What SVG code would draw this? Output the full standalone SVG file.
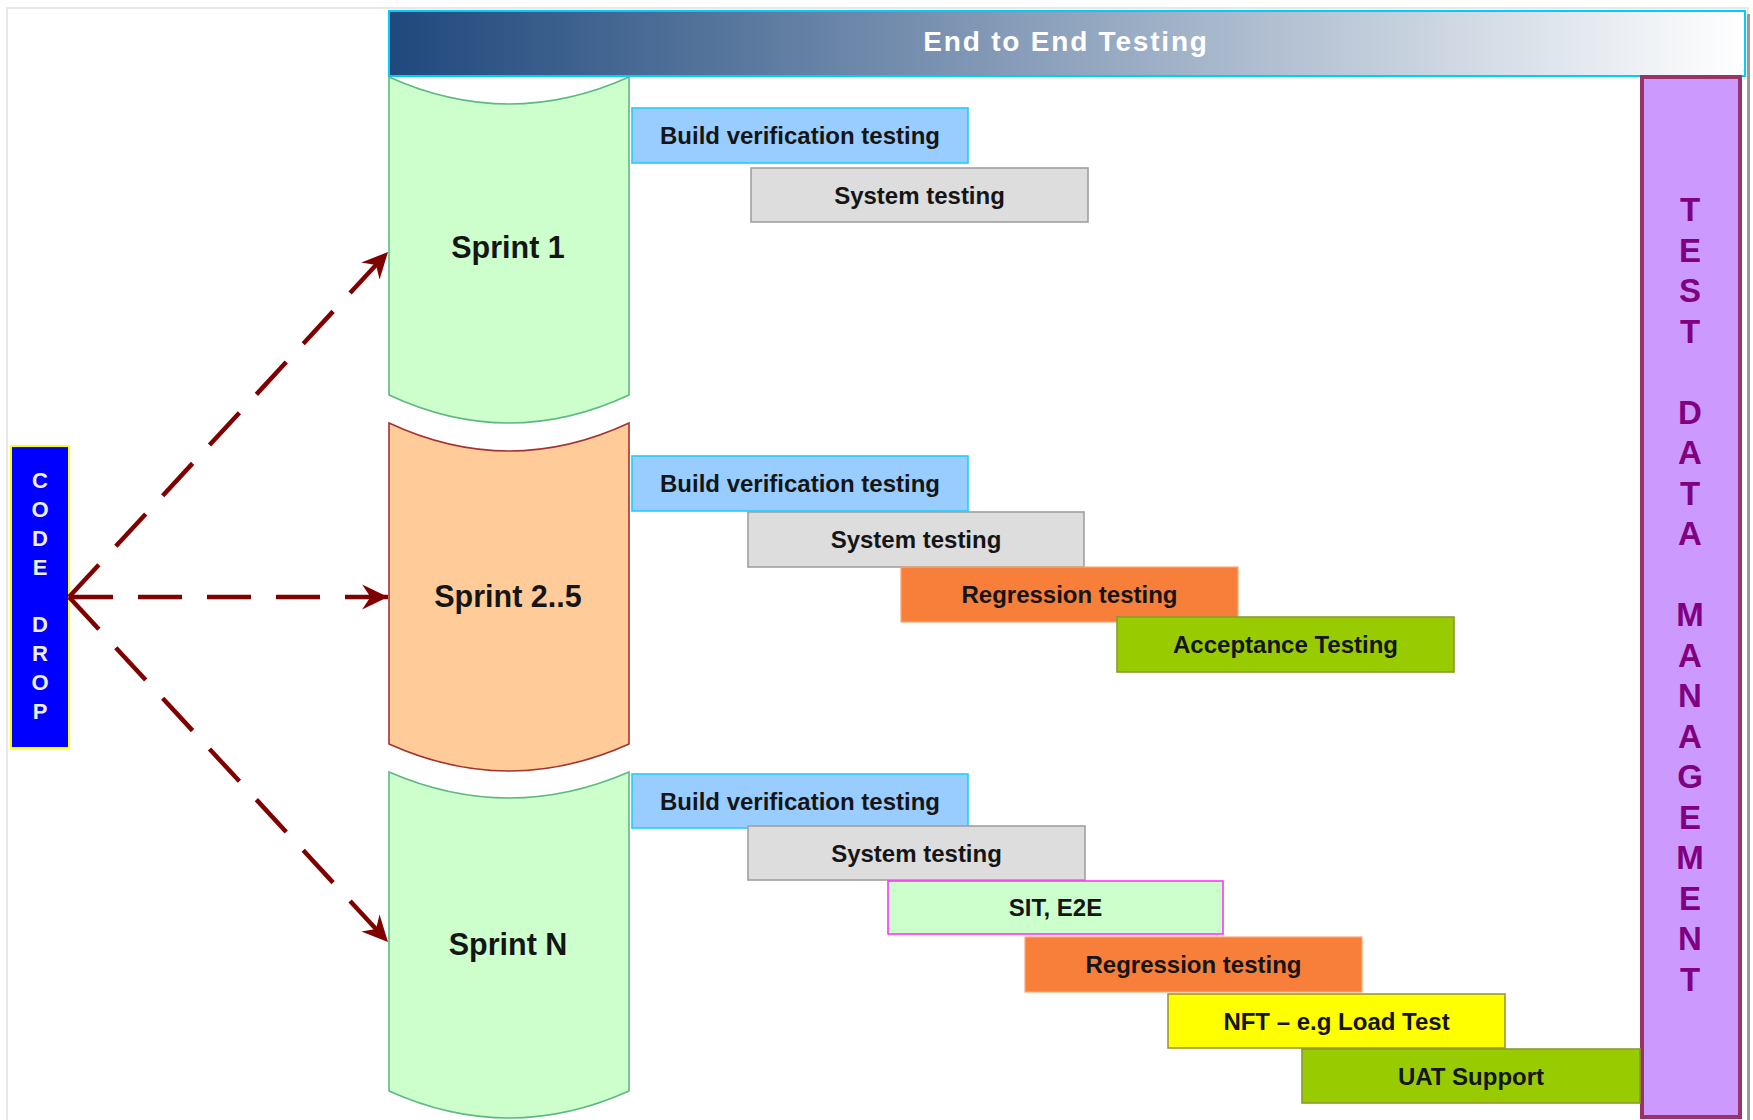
<svg xmlns="http://www.w3.org/2000/svg" width="1753" height="1120" viewBox="0 0 1753 1120">
  <defs>
    <linearGradient id="hdrGrad" x1="0" y1="0" x2="1" y2="0">
      <stop offset="0" stop-color="#1f487c"/>
      <stop offset="1" stop-color="#ffffff"/>
    </linearGradient>
    <marker id="arrowHead" markerUnits="userSpaceOnUse" markerWidth="30" markerHeight="30" viewBox="-27 -14 29 28" refX="0" refY="0" orient="auto">
      <path d="M0,0 L-25,-12 L-17,0 L-25,12 Z" fill="#800000"/>
    </marker>
    <style>
      .lbl { font-family: "Liberation Sans", Arial, sans-serif; font-weight: bold; fill: #151515; text-anchor: middle; }
      .bar { font-size: 24px; }
      .sprint { font-size: 30.5px; }
      .sprint-green { fill: #ccffcc; stroke: #5fb882; stroke-width: 1.6; }
      .sprint-orange { fill: #ffcc99; stroke: #a33333; stroke-width: 1.6; }
      .bvt { fill: #99ccff; stroke: #22ccff; stroke-width: 1.6; }
      .sys { fill: #dddddd; stroke: #a0a0a0; stroke-width: 1.6; }
      .reg { fill: #f87f3a; stroke: #f9a878; stroke-width: 1.2; }
      .acc { fill: #99cc00; stroke: #8a9a30; stroke-width: 1.6; }
      .sit { fill: #ccffcc; stroke: #ff33ff; stroke-width: 1.6; }
      .nft { fill: #ffff00; stroke: #9a9a33; stroke-width: 1.6; }
      .conn { fill: none; stroke: #800000; stroke-width: 4.5; stroke-dasharray: 44 25; marker-end: url(#arrowHead); }
      .vert-code { font-family: "Liberation Sans", Arial, sans-serif; font-size: 22px; font-weight: bold; fill: #eeeeee; text-anchor: middle; }
      .vert-tdm { font-family: "Liberation Sans", Arial, sans-serif; font-size: 33px; font-weight: bold; fill: #800080; text-anchor: middle; }
    </style>
  </defs>

  <!-- page frame -->
  <rect x="7" y="8" width="1741" height="1120" fill="#ffffff" stroke="#e8e8e8" stroke-width="2"/>
  <line x1="1748.5" y1="14" x2="1748.5" y2="1120" stroke="#9a9a9a" stroke-width="3"/>

  <!-- header banner -->
  <g id="end-to-end">
    <rect x="389" y="11" width="1356" height="65" fill="url(#hdrGrad)" stroke="#00ccff" stroke-width="2"/>
    <text x="1066" y="51" font-family="'Liberation Sans', Arial, sans-serif" font-size="28" font-weight="bold" fill="#ffffff" text-anchor="middle" letter-spacing="1.8">End to End Testing</text>
  </g>

  <!-- code drop -->
  <g id="code-drop">
    <rect x="11" y="446" width="58" height="302" fill="#0000ff" stroke="#ffff00" stroke-width="2"/>
    <text class="vert-code" x="40" y="488">C</text>
    <text class="vert-code" x="40" y="517">O</text>
    <text class="vert-code" x="40" y="546">D</text>
    <text class="vert-code" x="40" y="575">E</text>
    <text class="vert-code" x="40" y="632">D</text>
    <text class="vert-code" x="40" y="661">R</text>
    <text class="vert-code" x="40" y="690">O</text>
    <text class="vert-code" x="40" y="719">P</text>
  </g>

  <!-- test data management -->
  <g id="test-data-management">
    <rect x="1642" y="77" width="98" height="1040" fill="#cc99ff" stroke="#993366" stroke-width="4"/>
    <text class="vert-tdm" x="1690" y="221">T</text>
    <text class="vert-tdm" x="1690" y="261.5">E</text>
    <text class="vert-tdm" x="1690" y="302">S</text>
    <text class="vert-tdm" x="1690" y="342.5">T</text>
    <text class="vert-tdm" x="1690" y="423.5">D</text>
    <text class="vert-tdm" x="1690" y="464">A</text>
    <text class="vert-tdm" x="1690" y="504.5">T</text>
    <text class="vert-tdm" x="1690" y="545">A</text>
    <text class="vert-tdm" x="1690" y="626">M</text>
    <text class="vert-tdm" x="1690" y="666.5">A</text>
    <text class="vert-tdm" x="1690" y="707">N</text>
    <text class="vert-tdm" x="1690" y="747.5">A</text>
    <text class="vert-tdm" x="1690" y="788">G</text>
    <text class="vert-tdm" x="1690" y="828.5">E</text>
    <text class="vert-tdm" x="1690" y="869">M</text>
    <text class="vert-tdm" x="1690" y="909.5">E</text>
    <text class="vert-tdm" x="1690" y="950">N</text>
    <text class="vert-tdm" x="1690" y="990.5">T</text>
  </g>

  <!-- sprint 1 -->
  <g id="sprint-1">
    <path class="sprint-green" d="M389,77 Q509,131 629,77 L629,395 Q509,451 389,395 Z"/>
    <text class="lbl sprint" x="508" y="258">Sprint 1</text>
  </g>
  <g id="s1-bvt">
    <rect class="bvt" x="632" y="108" width="336" height="55"/>
    <text class="lbl bar" x="800" y="144">Build verification testing</text>
  </g>
  <g id="s1-sys">
    <rect class="sys" x="751" y="168" width="337" height="54"/>
    <text class="lbl bar" x="919.5" y="203.5">System testing</text>
  </g>

  <!-- sprint 2..5 -->
  <g id="sprint-2-5">
    <path class="sprint-orange" d="M389,423 Q509,479 629,423 L629,744 Q509,798 389,744 Z"/>
    <text class="lbl sprint" x="508" y="607">Sprint 2..5</text>
  </g>
  <g id="s2-bvt">
    <rect class="bvt" x="632" y="456" width="336" height="55"/>
    <text class="lbl bar" x="800" y="492">Build verification testing</text>
  </g>
  <g id="s2-sys">
    <rect class="sys" x="748" y="512" width="336" height="55"/>
    <text class="lbl bar" x="916" y="548">System testing</text>
  </g>
  <g id="s2-reg">
    <rect class="reg" x="901" y="567" width="337" height="55"/>
    <text class="lbl bar" x="1069.5" y="603">Regression testing</text>
  </g>
  <g id="s2-acc">
    <rect class="acc" x="1117" y="617" width="337" height="55"/>
    <text class="lbl bar" x="1285.5" y="653">Acceptance Testing</text>
  </g>

  <!-- sprint N -->
  <g id="sprint-n">
    <path class="sprint-green" d="M389,772 Q509,824 629,772 L629,1091 Q509,1145 389,1091 Z"/>
    <text class="lbl sprint" x="508" y="955">Sprint N</text>
  </g>
  <g id="sn-bvt">
    <rect class="bvt" x="632" y="774" width="336" height="54"/>
    <text class="lbl bar" x="800" y="809.5">Build verification testing</text>
  </g>
  <g id="sn-sys">
    <rect class="sys" x="748" y="826" width="337" height="54"/>
    <text class="lbl bar" x="916.5" y="861.5">System testing</text>
  </g>
  <g id="sn-sit">
    <rect class="sit" x="888" y="881" width="335" height="53"/>
    <text class="lbl bar" x="1055.5" y="916">SIT, E2E</text>
  </g>
  <g id="sn-reg">
    <rect class="reg" x="1025" y="937" width="337" height="55"/>
    <text class="lbl bar" x="1193.5" y="973">Regression testing</text>
  </g>
  <g id="sn-nft">
    <rect class="nft" x="1168" y="994" width="337" height="54"/>
    <text class="lbl bar" x="1336.5" y="1029.5">NFT – e.g Load Test</text>
  </g>
  <g id="sn-uat">
    <rect class="acc" x="1302" y="1049" width="338" height="54"/>
    <text class="lbl bar" x="1471" y="1084.5">UAT Support</text>
  </g>

  <!-- connectors from code drop to sprints -->
  <g id="connectors">
    <line class="conn" x1="69" y1="597" x2="388" y2="252"/>
    <line class="conn" x1="69" y1="597" x2="388" y2="597"/>
    <line class="conn" x1="69" y1="597" x2="388" y2="942"/>
  </g>
</svg>
